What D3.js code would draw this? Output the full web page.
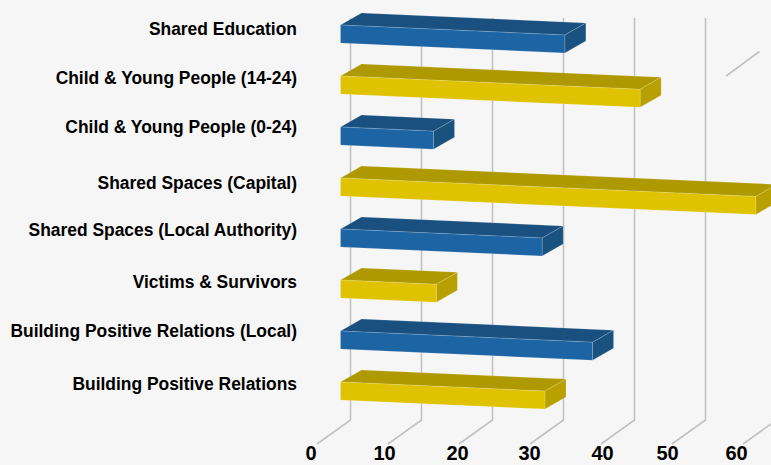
<!DOCTYPE html>
<html>
<head>
<meta charset="utf-8">
<script src="https://cdn.jsdelivr.net/npm/d3@7"></script>
<style>
  html, body { margin: 0; padding: 0; background: #f6f6f6; overflow: hidden; }
  text { font-family: "Liberation Sans", Arial, sans-serif; font-weight: bold; fill: #000; }
</style>
</head>
<body>
<div id="chart"></div>
<script>
// Chart data
const categories = [
    'Shared Education',
    'Child & Young People (14-24)',
    'Child & Young People (0-24)',
    'Shared Spaces (Capital)',
    'Shared Spaces (Local Authority)',
    'Victims & Survivors',
    'Building Positive Relations (Local)',
    'Building Positive Relations'
];
const values = [31.6, 42.2, 13.1, 58.5, 28.4, 13.5, 35.5, 28.8];
const seriesKeys = ['blue', 'yellow', 'blue', 'yellow', 'blue', 'yellow', 'blue', 'yellow'];
const tickValues = [0, 10, 20, 30, 40, 50, 60];

// Layout
const width = 771;
const height = 465;
const plotTop = 18;
const plotBottom = 420;
const bandTop = 25;
const bandBottom = 433;
const barHeight = 18;
const barFrontInset = -10;       // bar front starts left of the back wall value
const barDepth = { x: 21, y: -12 };
const floorDepth = { x: -33.5, y: 24 };
const slope = 0.0444;            // bars run slightly downhill
const labelNudge = [-5, -7, -9, -4, -8, -7, -9, -7];
const tickNudge = [-6.5, -4, -2, -1, 1, -5, -7];

const colors = {
    blue: { front: '#1c64a4', top: '#19507f', side: '#19527f' },
    yellow: { front: '#e0c300', top: '#ae9900', side: '#b8a000' }
};

const svg = d3.select('#chart')
    .append('svg')
    .attr('width', width)
    .attr('height', height);

const x = d3.scaleLinear().domain([0, 60]).range([350.5, 776.5]);
const y = d3.scaleBand().domain(categories).range([bandTop, bandBottom]).paddingInner(0).paddingOuter(0);

// Grid lines, back wall and floor
const gridPath = d3.line();
svg.append('g')
    .selectAll('path')
    .data(tickValues)
    .enter()
    .append('path')
    .attr('d', d => gridPath([
        [x(d), plotTop],
        [x(d), plotBottom],
        [x(d) + floorDepth.x, plotBottom + floorDepth.y]
    ]))
    .attr('fill', 'none')
    .attr('stroke', '#c2c2c2')
    .attr('stroke-width', 1.6);

// Stray floor segment at the upper right of the reference
svg.append('path')
    .attr('d', gridPath([[x(52.9), 76], [x(57.6), 51.5]]))
    .attr('fill', 'none')
    .attr('stroke', '#c2c2c2')
    .attr('stroke-width', 1.6);

// Bars
const barGroups = svg.append('g')
    .selectAll('g')
    .data(categories.map((name, i) => ({ name, value: values[i], key: seriesKeys[i] })))
    .enter()
    .append('g');

barGroups.each(function (d) {
    const g = d3.select(this);
    const x0 = x(0) + barFrontInset;
    const x1 = x(d.value) + barFrontInset;
    const y0 = y(d.name);
    const y1 = y0 + (x1 - x0) * slope;
    const c = colors[d.key];
    const faces = [
        {
            fill: c.top,
            pts: [[x0, y0], [x0 + barDepth.x, y0 + barDepth.y], [x1 + barDepth.x, y1 + barDepth.y], [x1, y1]]
        },
        {
            fill: c.side,
            pts: [[x1, y1], [x1 + barDepth.x, y1 + barDepth.y], [x1 + barDepth.x, y1 + barDepth.y + barHeight], [x1, y1 + barHeight]]
        },
        {
            fill: c.front,
            pts: [[x0, y0], [x1, y1], [x1, y1 + barHeight], [x0, y0 + barHeight]]
        }
    ];
    g.selectAll('path')
        .data(faces)
        .enter()
        .append('path')
        .attr('d', f => d3.line()(f.pts) + 'Z')
        .attr('fill', f => f.fill)
        .attr('stroke', 'rgba(255,255,255,0.22)')
        .attr('stroke-width', 0.7);
});

// Category labels
svg.append('g')
    .selectAll('text')
    .data(categories)
    .enter()
    .append('text')
    .attr('x', 297)
    .attr('y', (d, i) => y(d) + barHeight / 2 + labelNudge[i])
    .attr('dy', '0.35em')
    .attr('text-anchor', 'end')
    .style('font-size', '17.43px')
    .text(d => d);

// Value axis labels
const axis = svg.append('g')
    .attr('transform', `translate(${floorDepth.x},${plotBottom + floorDepth.y})`)
    .call(d3.axisBottom(x).tickValues(tickValues).tickSize(0).tickPadding(2));
axis.select('.domain').remove();
axis.selectAll('text')
    .attr('dx', (d, i) => tickNudge[i])
    .style('font-size', '20px');
</script>
</body>
</html>
